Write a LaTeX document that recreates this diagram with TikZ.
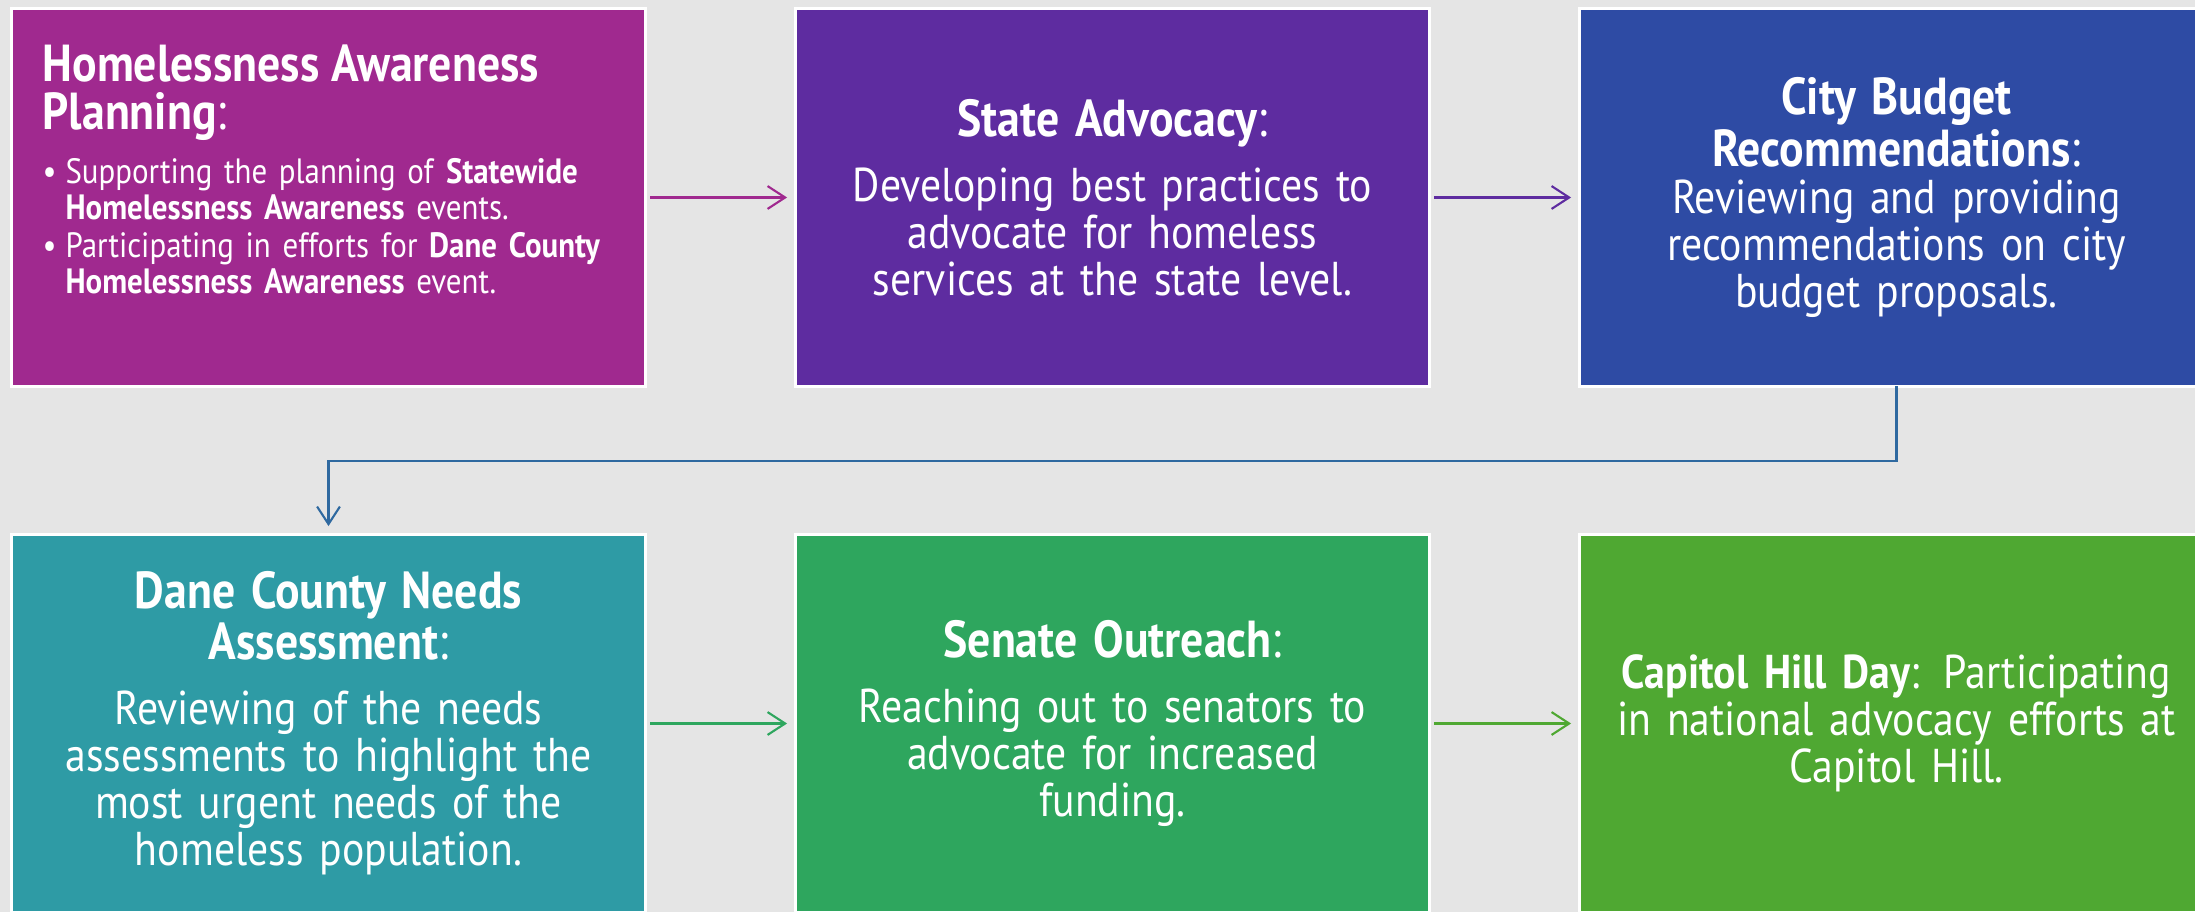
\documentclass[tikz,border=0pt]{standalone}
\usepackage{fontspec}
\setmainfont{PT Sans}[FakeStretch=0.88]
\usetikzlibrary{positioning}
\usetikzlibrary{arrows.meta}

\definecolor{cmagenta}{RGB}{160,41,143}
\definecolor{cpurple}{RGB}{94,44,160}
\definecolor{cblue}{RGB}{46,75,164}
\definecolor{cteal}{RGB}{46,155,165}
\definecolor{cgreen}{RGB}{46,166,94}
\definecolor{clime}{RGB}{79,168,50}
\definecolor{cbg}{RGB}{229,229,229}
\definecolor{cconn}{RGB}{47,105,160}

\newcommand{\headsize}{\fontsize{14.8}{12.6}\selectfont}
\newcommand{\bodysize}{\fontsize{13.5}{13.4}\selectfont}
\newcommand{\itemsize}{\fontsize{10}{10.2}\selectfont}
\newcommand{\bulletline}{\hangindent=0.65em\hangafter=1\noindent\makebox[0.65em][l]{\textbullet}}

\tikzset{
  stage/.style={draw=white, line width=0.9pt, minimum width=6.34cm, minimum height=3.78cm,
    inner sep=0pt, outer sep=0pt, text=white, align=center, text width=6cm, font=\bodysize},
  flow/.style={-{Straight Barb[length=5pt,width=6.5pt]}, line width=0.6pt,
    shorten <=1.3pt, shorten >=2.4pt},
}

\begin{document}
\begin{tikzpicture}
\useasboundingbox (0,0) rectangle (21.95,9.12);
\fill[cbg] (0,0) rectangle (21.95,9.12);

\node[stage, fill=cmagenta] (b1) at (3.285,7.145) {};
\node[anchor=north west, text=white, align=left, text width=6cm, inner sep=0pt] (b1txt)
  at ([xshift=0.305cm,yshift=-0.36cm]b1.north west) {%
  {\fontsize{14.8}{13.6}\selectfont\textbf{Homelessness Awareness}\newline\textbf{Planning}:\par}\vspace{4pt}
  {\itemsize
  \bulletline Supporting the planning of \textbf{Statewide}\newline
  \textbf{Homelessness Awareness} events.\par\vspace{0.8pt}
  \bulletline Participating in efforts for \textbf{Dane County}\newline
  \textbf{Homelessness Awareness} event.\par}};

\node[stage, fill=cpurple, right=1.5cm of b1] (b2) {%
  {\headsize\textbf{State Advocacy}:\par}\vspace{5pt}
  Developing best practices to\\advocate for homeless\\services at the state level.};

\node[stage, fill=cblue, right=1.5cm of b2] (b3) {%
  {\headsize\textbf{City Budget\\Recommendations}:\par}
  Reviewing and providing\\recommendations on city\\budget proposals.};

\node[stage, fill=cteal, below=1.48cm of b1] (b4) {%
  {\headsize\textbf{Dane County Needs\\Assessment}:\par}\vspace{5pt}
  Reviewing of the needs\\assessments to highlight the\\most urgent needs of the\\homeless population.};

\node[stage, fill=cgreen, right=1.5cm of b4] (b5) {%
  {\headsize\textbf{Senate Outreach}:\par}\vspace{5pt}
  Reaching out to senators to\\advocate for increased\\funding.};

\node[stage, fill=clime, right=1.5cm of b5] (b6) {%
  \textbf{Capitol Hill Day}: Participating\\in national advocacy efforts at\\Capitol Hill.};

\draw[flow, cmagenta] (b1) -- (b2);
\draw[flow, cpurple] (b2) -- (b3);
\draw[flow, cconn, shorten <=0pt] (b3.south) -- ++(0,-0.745) -| (b4.north);
\draw[flow, cgreen] (b4) -- (b5);
\draw[flow, clime] (b5) -- (b6);
\end{tikzpicture}
\end{document}
